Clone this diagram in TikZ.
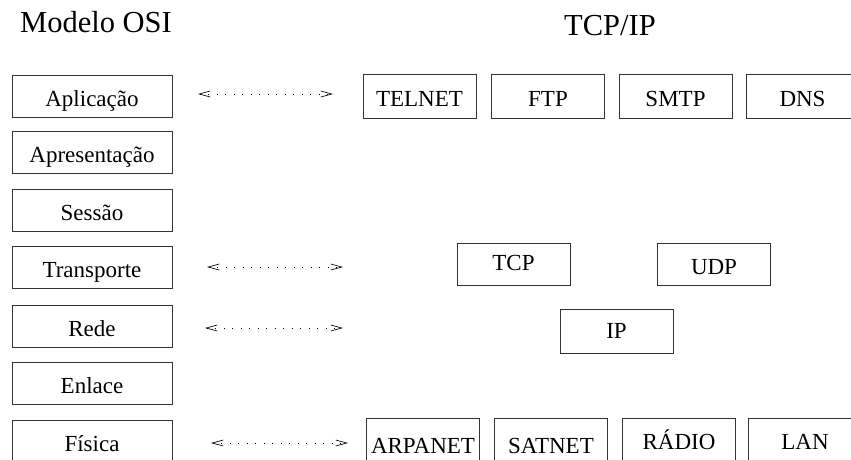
\documentclass[tikz,border=0pt]{standalone}
\usepackage{fontspec}
\setmainfont{Liberation Serif}
\usetikzlibrary{arrows.meta}
\begin{document}
\begin{tikzpicture}[x=1pt,y=-1pt,
  lbl/.style={font=\fontsize{23}{25}\selectfont},
  layer/.style={lbl, draw=black!80, line width=0.9pt, inner sep=0pt,
    minimum width=160pt, minimum height=42pt, text height=20pt, text depth=0pt},
  proto/.style={lbl, draw=black!80, line width=0.9pt, inner sep=0pt,
    minimum width=113pt, minimum height=44pt, text height=20pt, text depth=0pt},
  title/.style={font=\fontsize{30.5}{32}\selectfont, anchor=base},
  link/.style={line width=0.65pt, dash pattern=on 0.9pt off 7.6pt,
    {Straight Barb[length=11pt,width=6pt]}-{Straight Barb[length=11pt,width=6pt]}}
]
\useasboundingbox (0,0) rectangle (851,459);

% titles
\node[title] (osi) at (96,32) {Modelo OSI};
\node[title] (tcpip) at (610,35) {TCP/IP};

% OSI layers
\node[layer] (apl) at (92,96) {Aplicação};
\node[layer] (apr) at (92,152.5) {Apresentação};
\node[layer] (ses) at (92,210) {Sessão};
\node[layer] (tra) at (92,267.5) {Transporte};
\node[layer] (red) at (92,326) {Rede};
\node[layer] (enl) at (92,383) {Enlace};
\node[layer] (fis) at (92,441) {Física};

% application protocols
\node[proto] (telnet) at (419.5,96) {TELNET};
\node[proto, text height=21pt] (ftp) at (548,96) {FTP};
\node[proto] (smtp) at (675.5,96) {SMTP};
\node[proto] (dns) at (802.5,96) {DNS};

% transport
\node[proto, minimum height=42pt, text height=13pt] (tcp) at (513.5,264) {TCP};
\node[proto, minimum height=42pt, text height=21pt] (udp) at (714,264) {UDP};

% network
\node[proto, text height=14pt] (ip) at (616.5,331) {IP};

% physical
\node[proto, text height=26pt] (arpanet) at (423,440) {ARPANET};
\node[proto, text height=26pt] (satnet) at (551,440) {SATNET};
\node[proto, text height=18pt] (radio) at (679,440) {RÁDIO};
\node[proto, text height=18pt] (lan) at (805,440) {LAN};

% correspondence arrows
\coordinate (a1l) at (198,94);  \coordinate (a1r) at (333,94);
\coordinate (a2l) at (207,267); \coordinate (a2r) at (343,267);
\coordinate (a3l) at (205,328); \coordinate (a3r) at (343,328);
\coordinate (a4l) at (211,443); \coordinate (a4r) at (348,443);
\draw[link] (a1l) -- (a1r);
\draw[link] (a2l) -- (a2r);
\draw[link] (a3l) -- (a3r);
\draw[link] (a4l) -- (a4r);
\end{tikzpicture}
\end{document}
